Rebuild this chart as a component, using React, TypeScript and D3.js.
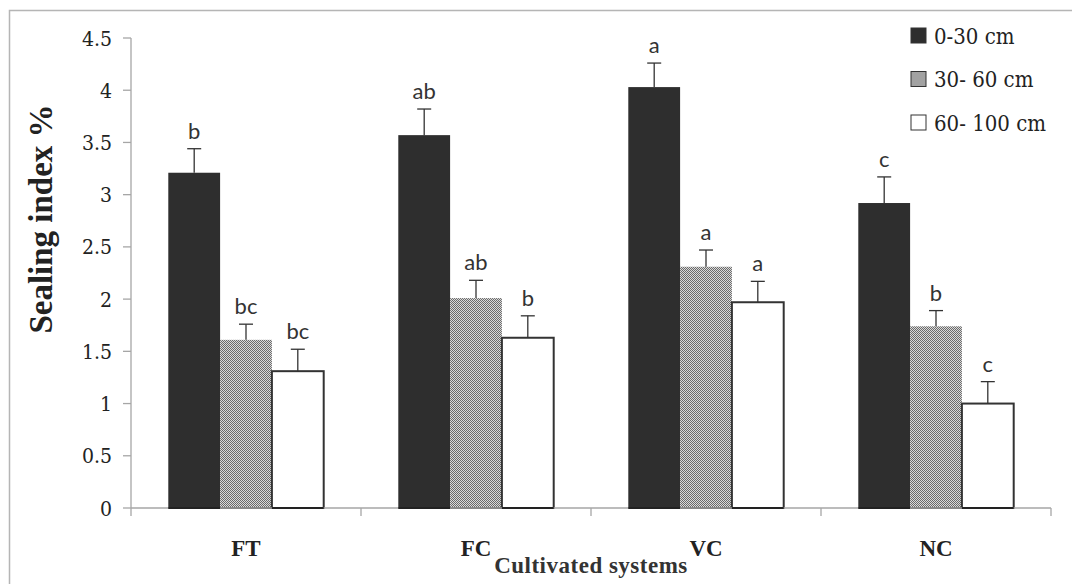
import React from "react";
import * as d3 from "d3";

const categories = ["FT", "FC", "VC", "NC"];
const seriesNames = ["0-30 cm", "30- 60 cm", "60- 100 cm"];
const depth0_30 = [3.21, 3.57, 4.03, 2.92];
const depth30_60 = [1.61, 2.01, 2.31, 1.74];
const depth60_100 = [1.31, 1.63, 1.97, 1.0];
const err0_30 = [0.23, 0.25, 0.23, 0.25];
const err30_60 = [0.15, 0.17, 0.16, 0.15];
const err60_100 = [0.21, 0.21, 0.2, 0.21];
const letters0_30 = ["b", "ab", "a", "c"];
const letters30_60 = ["bc", "ab", "a", "b"];
const letters60_100 = ["bc", "b", "a", "c"];
const yTicks = [0, 0.5, 1, 1.5, 2, 2.5, 3, 3.5, 4, 4.5];

const values = [depth0_30, depth30_60, depth60_100];
const errors = [err0_30, err30_60, err60_100];
const letters = [letters0_30, letters30_60, letters60_100];

const W = 1072;
const H = 584;
const x0 = 131;
const x1 = 1051;
const yTop = 38;
const yBot = 508;
const serif = "'Liberation Serif', serif";
const serifRegular = "'DejaVu Serif Condensed', 'DejaVu Serif'";
const sans = "Lato, 'Liberation Sans', sans-serif";
const axisColor = "#a6a6a6";
const dark = "#2e2e2e";

export default function App() {
  const x = d3.scaleBand<string>().domain(categories).range([x0, x1]).paddingInner(0).paddingOuter(0);
  const inner = d3
    .scaleBand<number>()
    .domain([0, 1, 2])
    .range([0, x.bandwidth()])
    .paddingInner(0)
    .paddingOuter(0.72);
  const y = d3.scaleLinear().domain([0, 4.5]).range([yBot, yTop]);

  const fills = [dark, "url(#dots)", "#ffffff"];

  return (
    <svg width={W} height={H} style={{ position: "absolute", left: 0, top: 0 }}>
      <defs>
        <pattern id="dots" width="2" height="2" patternUnits="userSpaceOnUse">
          <rect width="2" height="2" fill="#d9d9d9" />
          <rect width="1" height="1" fill="#6a6a6a" />
          <rect x="1" y="1" width="1" height="1" fill="#6a6a6a" />
        </pattern>
      </defs>
      <rect x={0} y={0} width={W} height={H} fill="#fff" />
      <rect x={9.5} y={10.5} width={W + 20} height={H + 20} fill="none" stroke="#b5b5b5" strokeWidth={1.5} />

      {/* y axis */}
      <line x1={x0} x2={x0} y1={yTop} y2={yBot + 8} stroke={axisColor} strokeWidth={1.3} />
      {yTicks.map((t) => (
        <g key={t}>
          <line x1={x0 - 8} x2={x0} y1={y(t)} y2={y(t)} stroke={axisColor} strokeWidth={1.3} />
          <text
            x={112}
            y={y(t)}
            dy="0.36em"
            textAnchor="end"
            fontFamily={serifRegular}
            fontSize={21}
            fill="#222"
          >
            {String(t)}
          </text>
        </g>
      ))}

      {/* bars */}
      {categories.map((c, ci) => (
        <g key={c}>
          {values.map((vals, si) => {
            const bx = (x(c) as number) + (inner(si) as number);
            const bw = inner.bandwidth();
            const v = vals[ci];
            return (
              <rect
                key={si}
                x={bx}
                y={y(v)}
                width={bw}
                height={yBot - y(v)}
                fill={fills[si]}
                stroke={si === 2 ? "#333" : "none"}
                strokeWidth={si === 2 ? 2 : 0}
              />
            );
          })}
        </g>
      ))}

      {/* x axis */}
      <line x1={x0} x2={x1} y1={yBot} y2={yBot} stroke={axisColor} strokeWidth={1.3} />
      {categories.map((c) => (
        <line
          key={c}
          x1={(x(c) as number) + x.bandwidth()}
          x2={(x(c) as number) + x.bandwidth()}
          y1={yBot}
          y2={yBot + 8}
          stroke={axisColor}
          strokeWidth={1.3}
        />
      ))}
      {categories.map((c, ci) =>
        values.map((vals, si) => {
          const bx = (x(c) as number) + (inner(si) as number);
          const bw = inner.bandwidth();
          return (
            <line
              key={c + si}
              x1={bx}
              x2={bx + bw}
              y1={yBot}
              y2={yBot}
              stroke={si === 1 ? "#888" : "#222"}
              strokeWidth={2}
            />
          );
        })
      )}

      {/* error bars and letters */}
      {categories.map((c, ci) =>
        values.map((vals, si) => {
          const cx = (x(c) as number) + (inner(si) as number) + inner.bandwidth() / 2;
          const v = vals[ci];
          const top = v + errors[si][ci];
          return (
            <g key={c + "e" + si}>
              <line x1={cx} x2={cx} y1={y(v)} y2={y(top)} stroke="#333" strokeWidth={1.3} />
              <line x1={cx - 7} x2={cx + 7} y1={y(top)} y2={y(top)} stroke="#333" strokeWidth={1.3} />
              <text
                x={cx}
                y={y(top) - 10}
                textAnchor="middle"
                fontFamily={sans}
                fontSize={22}
                fill="#333"
              >
                {letters[si][ci]}
              </text>
            </g>
          );
        })
      )}

      {/* category labels */}
      {categories.map((c) => (
        <text
          key={c}
          x={(x(c) as number) + x.bandwidth() / 2}
          y={556}
          textAnchor="middle"
          fontFamily={serif}
          fontWeight="bold"
          fontSize={23}
          fill="#222"
        >
          {c}
        </text>
      ))}
      <text
        x={(x0 + x1) / 2}
        y={573}
        textAnchor="middle"
        fontFamily={serif}
        fontWeight="bold"
        letterSpacing="0.5px"
        fontSize={23}
        fill="#333"
      >
        Cultivated systems
      </text>

      {/* y title */}
      <text
        transform={`translate(52, 219) rotate(-90)`}
        textAnchor="middle"
        fontFamily={serif}
        fontWeight="bold"
        fontSize={33}
        fill="#222"
      >
        Sealing index %
      </text>

      {/* legend */}
      {seriesNames.map((s, i) => (
        <g key={s} transform={`translate(911, ${28 + i * 43.5})`}>
          <rect
            x={0}
            y={0}
            width={15}
            height={15}
            fill={fills[i]}
            stroke="#333"
            strokeWidth={1}
          />
          <text
            x={23}
            y={8}
            dy="0.36em"
            fontFamily={serifRegular}
            fontSize={22}
            fill="#222"
          >
            {s}
          </text>
        </g>
      ))}
    </svg>
  );
}
